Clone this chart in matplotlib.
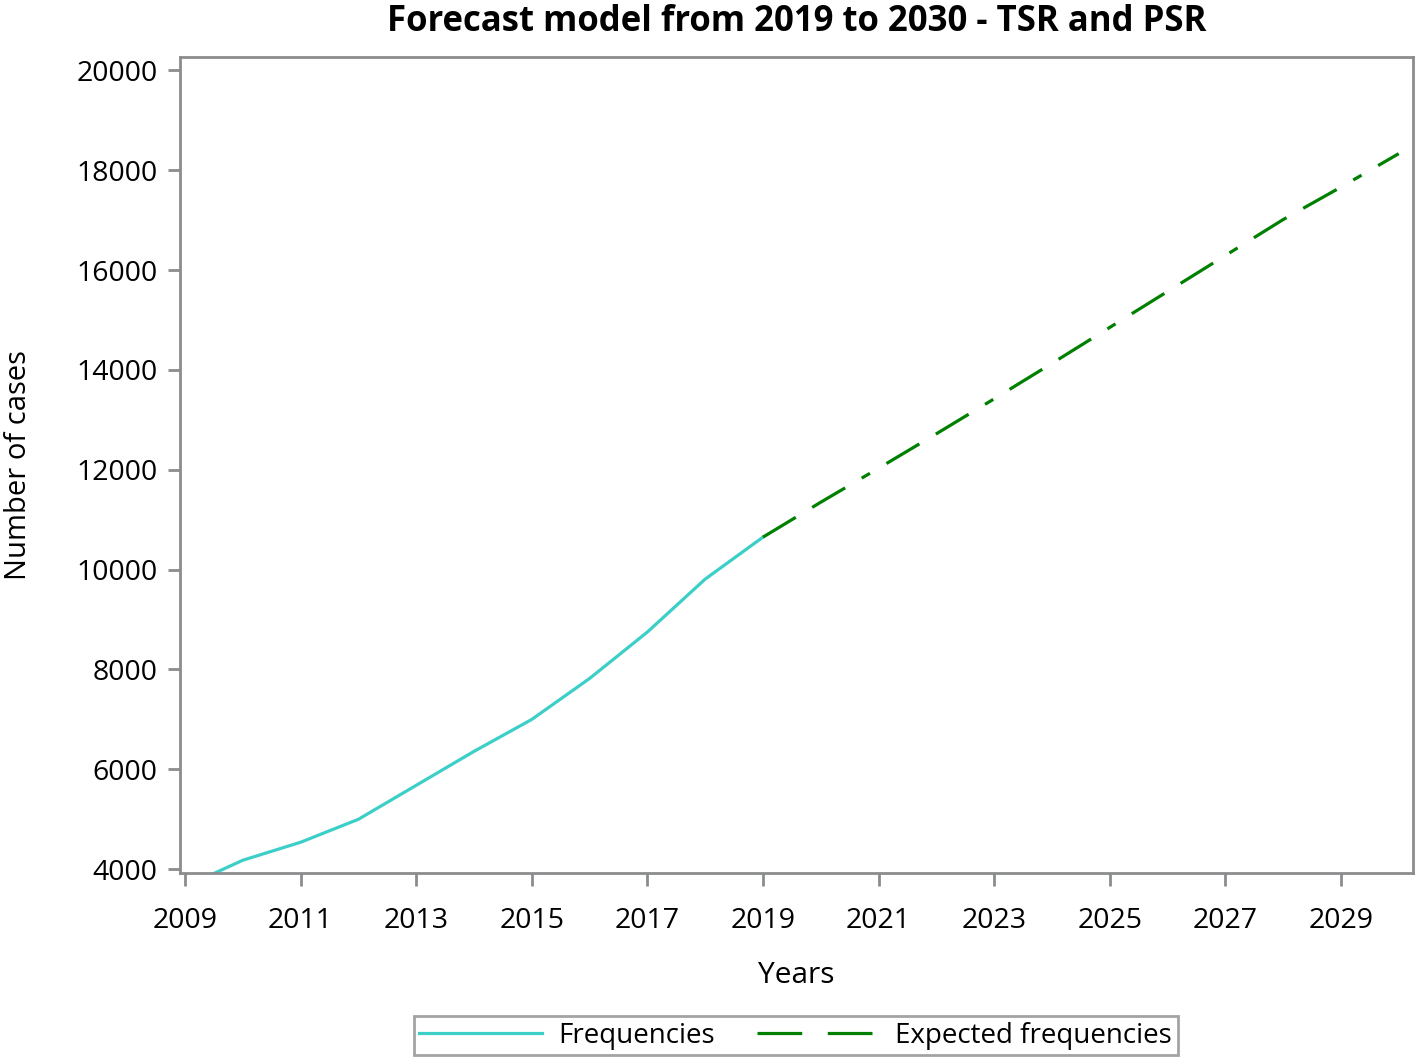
import matplotlib.pyplot as plt
from matplotlib.lines import Line2D
import numpy as np

# observed counts
years_obs = [2009, 2010, 2011, 2012, 2013, 2014, 2015, 2016, 2017, 2018, 2019]
freq_obs = [3650, 4180, 4540, 5000, 5680, 6360, 7000, 7820, 8750, 9810, 10650]

# forecast
years_fc = [2019, 2020, 2021, 2022, 2023, 2024, 2025, 2026, 2027, 2028, 2029, 2030]
freq_fc = [10650, 11350, 12030, 12720, 13420, 14130, 14850, 15570, 16290, 17010, 17660, 18330]

xticks = list(range(2009, 2030, 2))
yticks = list(range(4000, 20001, 2000))

plt.rcParams['font.family'] = ['Open Sans', 'DejaVu Sans']
grey = '#8a8c8e'
cyan = '#3ccfc8'
green = '#008000'

fig = plt.figure(figsize=(14.16, 10.61), dpi=100)
ax = fig.add_axes([0.127, 0.177, 0.871, 0.769])

ax.plot(years_obs, freq_obs, color=cyan, lw=2.3)
ax.plot(years_fc, freq_fc, color=green, lw=2.3, dashes=(12, 6, 12, 6, 3, 6))

ax.set_xlim(2008.91, 2030.25)
ax.set_ylim(3920, 20260)
ax.set_xticks(xticks)
ax.set_yticks(yticks)
ax.tick_params(labelsize=20.5, length=9, width=2, color=grey)
ax.tick_params(axis='x', pad=15)
ax.tick_params(axis='y', pad=7)

for s in ax.spines.values():
    s.set_color(grey)
    s.set_linewidth(2)

ax.set_xlabel('Years', fontsize=21.5, labelpad=19)
ax.set_ylabel('Number of cases', fontsize=21, labelpad=31)
ax.set_title('Forecast model from 2019 to 2030 - TSR and PSR', fontsize=25,
             fontweight='bold', pad=19)

# legend proxies (the legend shows plain long dashes)
handles = [Line2D([], [], color=cyan, lw=2.3),
           Line2D([], [], color=green, lw=2.3, dashes=(14, 8))]
labels = ['Frequencies', 'Expected frequencies']
leg = fig.legend(handles, labels, loc='lower center', bbox_to_anchor=(0.562, 0.0),
                 ncol=2, fontsize=20, frameon=True, fancybox=False,
                 handlelength=4.4, handletextpad=0.6, columnspacing=1.5,
                 borderpad=0.2, borderaxespad=0.2)
leg.get_frame().set_edgecolor(grey)
leg.get_frame().set_linewidth(2)

fig.savefig('out.png', dpi=100)
